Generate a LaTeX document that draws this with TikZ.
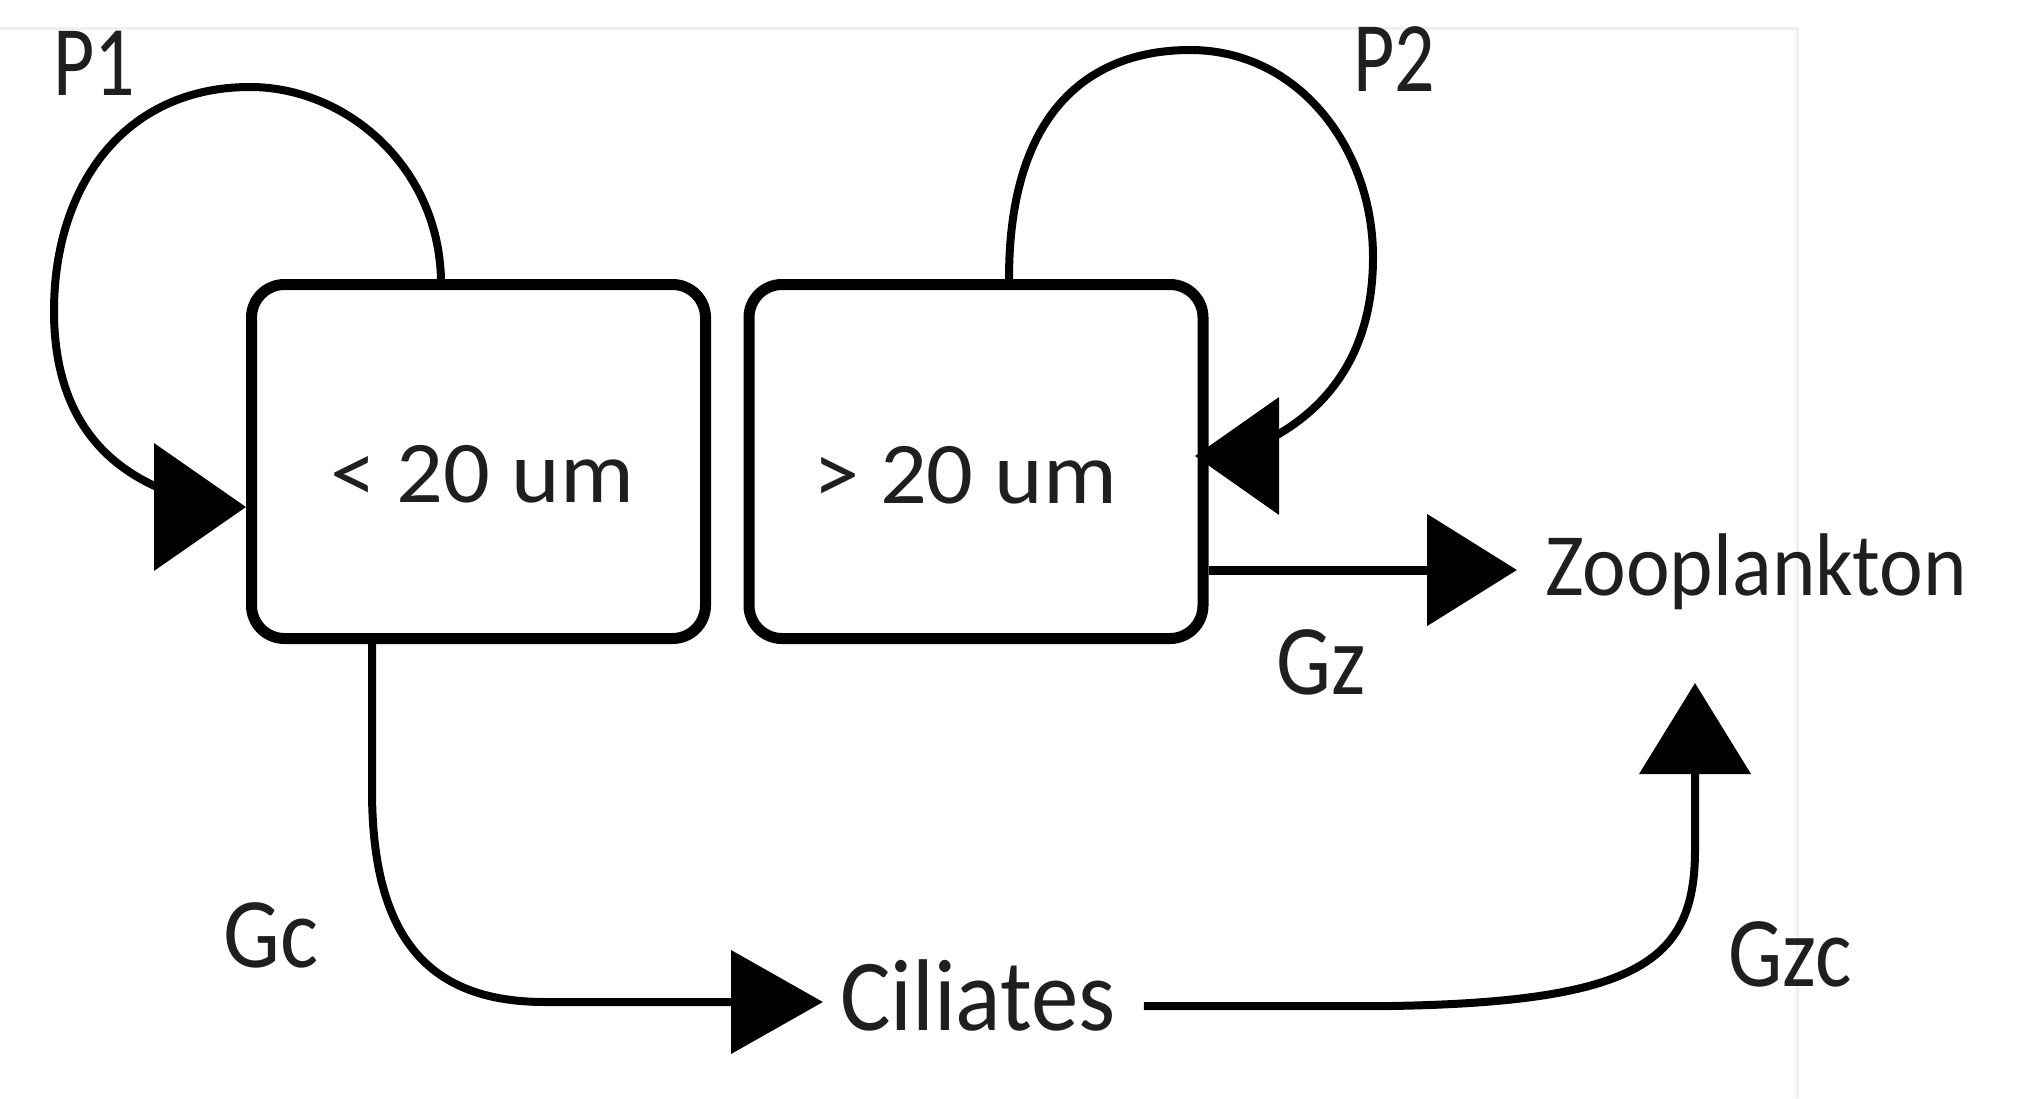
\documentclass[tikz,border=0pt]{standalone}
\usepackage{fontspec}
\setmainfont{Carlito}
\usetikzlibrary{arrows.meta}
\begin{document}
\begin{tikzpicture}[x=1pt,y=-1pt,
  box/.style={draw, line width=11pt, rounded corners=33pt, minimum width=454pt, minimum height=354pt, inner sep=0pt},
  flow/.style={line width=8pt, line join=round},
  lbl/.style={inner sep=0pt, anchor=base, text=black!88},
  big/.style={font=\fontsize{100pt}{110pt}\selectfont},
]
\useasboundingbox (0,0) rectangle (2033,1098);
% faint frame of the scan
\draw[black!6, line width=3pt] (0,28) -- (1797,28) -- (1797,1098);

% boxes
\node[box] (b1) at (478.5,461.5) {};
\node[box] (b2) at (976,461.5) {};

% texts
\node[lbl, font=\fontsize{88pt}{96pt}\selectfont] (t1) at (482,502) {\scalebox{1.05}[1]{< 20 um}};
\node[lbl, font=\fontsize{88pt}{96pt}\selectfont] (t2) at (965,503) {\scalebox{1.05}[1]{> 20 um}};
\node[lbl, font=\fontsize{89pt}{96pt}\selectfont] (zoo) at (1756,595) {\scalebox{0.93}[1]{Zooplankton}};
\node[lbl, font=\fontsize{102pt}{110pt}\selectfont] (cil) at (978,1030) {\scalebox{0.93}[1]{Ciliates}};
\node[lbl, big] (p1) at (94,95) {\scalebox{0.8}[1]{P1}};
\node[lbl, big] (p2) at (1394,91) {\scalebox{0.8}[1]{P2}};
\node[lbl, big] (gz) at (1321.5,694) {\scalebox{0.87}[1]{Gz}};
\node[lbl, big] (gc) at (271,967) {\scalebox{0.9}[1]{Gc}};
\node[lbl, big] (gzc) at (1790,986) {\scalebox{0.86}[1]{Gzc}};

% arrow tip points
\coordinate (p1tip) at ([yshift=-45.5pt]b1.west);
\coordinate (p2tip) at ([xshift=-13.5pt,yshift=5.5pt]b2.east);
\coordinate (zootip) at (1517,570);
\coordinate (zctip) at (1695,683);
\coordinate (ciltip) at (823,1002);

% P1 loop
\draw[flow, -{Triangle[length=92pt,width=126pt]}]
  ([xshift=-37.5pt]b1.north)
  .. controls (438,165) and (345,87) .. (250,87)
  .. controls (125,87) and (54,185) .. (54,311)
  .. controls (54,405) and (95,462) .. (164,490)
  (157,507) -- (p1tip);

% P2 loop
\draw[flow, -{Triangle[length=84pt,width=116pt]}]
  ([xshift=33pt]b2.north)
  .. controls (1009,100) and (1100,50) .. (1190,50)
  .. controls (1300,50) and (1373,150) .. (1373,257)
  .. controls (1373,345) and (1335,405) .. (1268,440)
  (1273,456) -- (p2tip);

% Gz
\draw[line width=9pt, -{Triangle[length=90pt,width=110pt]}]
  ([yshift=-108.5pt]b2.east) -- (zootip);

% Gc
\draw[flow, -{Triangle[length=92pt,width=102pt]}]
  ([xshift=-106.5pt]b1.south) -- (372,790)
  .. controls (372,940) and (430,1002) .. (545,1002)
  -- (ciltip);

% Gzc
\draw[flow, -{Triangle[length=91pt,width=110pt]}]
  ([xshift=28pt,yshift=24pt]cil.base east) -- (1390,1006)
  .. controls (1640,1002) and (1695,960) .. (1695,850)
  -- (zctip);
\end{tikzpicture}
\end{document}
